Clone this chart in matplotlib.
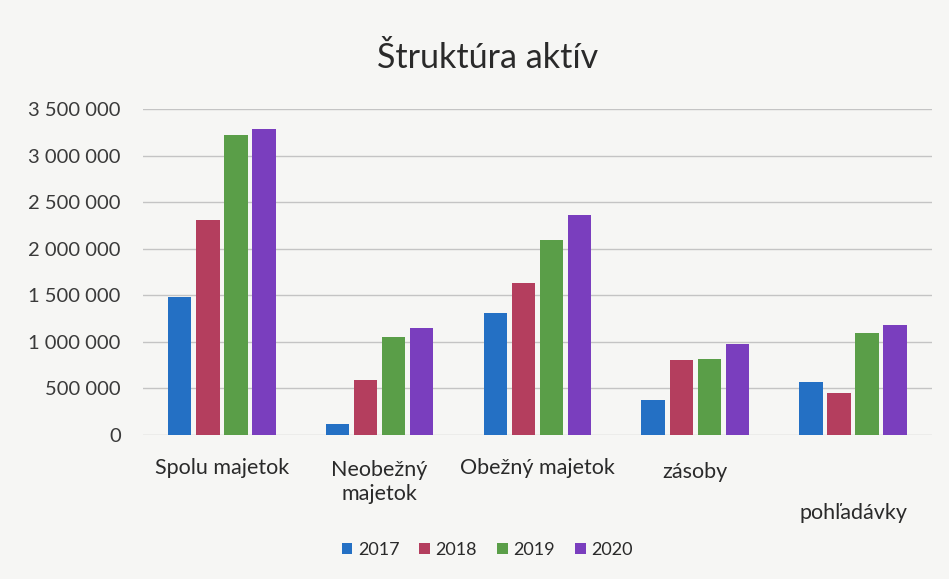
import matplotlib
matplotlib.use("Agg")
import matplotlib.pyplot as plt
import matplotlib.transforms as mtransforms
from matplotlib.ticker import FuncFormatter
import numpy as np

plt.rcParams["font.family"] = ["Lato", "DejaVu Sans"]

categories = ["Spolu majetok", "Neobežný\nmajetok", "Obežný majetok", "zásoby", "pohľadávky"]
years = ["2017", "2018", "2019", "2020"]
v2017 = [1480000, 115000, 1310000, 380000, 570000]
v2018 = [2310000, 590000, 1630000, 810000, 450000]
v2019 = [3220000, 1050000, 2090000, 820000, 1090000]
v2020 = [3290000, 1146000, 2360000, 980000, 1180000]
yticks = [0, 500000, 1000000, 1500000, 2000000, 2500000, 3000000, 3500000]

colors = ["#2470C4", "#B43E5E", "#5A9E48", "#7A3EBE"]
bg = "#F6F6F4"
txt = "#2a2a2a"

fig = plt.figure(figsize=(9.49, 5.79), dpi=100)
fig.patch.set_facecolor(bg)
ax = fig.add_axes([0.1507, 0.2487, 0.8313, 0.563])
ax.set_facecolor(bg)

x = np.arange(len(categories))
pitch = 0.178
width = 0.148
series = [v2017, v2018, v2019, v2020]
for i, (vals, col, yr) in enumerate(zip(series, colors, years)):
    ax.bar(x + (i - 1.5) * pitch, vals, width=width, color=col, label=yr, zorder=3)

ax.set_xlim(-0.5, len(categories) - 0.5)
ax.set_ylim(0, 3500000)
ax.set_yticks(yticks)
ax.yaxis.set_major_formatter(FuncFormatter(lambda v, p: f"{int(v):,}".replace(",", " ")))
ax.tick_params(axis="y", length=0, labelsize=14.5, colors="#3a3a3a", pad=16)
ax.set_xticks([])
ax.yaxis.grid(True, color="#c4c4c4", linewidth=1.0, zorder=1)
for s in ax.spines.values():
    s.set_visible(False)

# category labels (last one sits lower, as in the original)
trans = mtransforms.blended_transform_factory(ax.transData, fig.transFigure)
label_y = [1 - 468 / 579, 1 - 482 / 579, 1 - 468 / 579, 1 - 472 / 579, 1 - 513 / 579]
for xi, lab, ly in zip(x, categories, label_y):
    ax.text(xi, ly, lab, transform=trans, ha="center", va="center",
            fontsize=15.5, color=txt, linespacing=1.25)

fig.text(0.514, 1 - 68 / 579, "Štruktúra aktív", ha="center", va="baseline",
         fontsize=24.5, color=txt)

leg = fig.legend(loc="center", bbox_to_anchor=(487 / 949, 1 - 550 / 579), ncol=4,
                 frameon=False, fontsize=13, handlelength=0.6, handleheight=0.6,
                 handletextpad=0.3, columnspacing=1.1)
for t in leg.get_texts():
    t.set_color(txt)

fig.savefig("out.png", dpi=100, facecolor=bg)
